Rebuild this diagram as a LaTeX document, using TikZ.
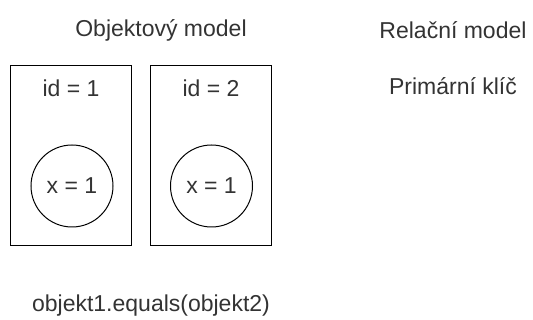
\documentclass[tikz,border=0pt]{standalone}
\usepackage{fontspec}
\setmainfont{Liberation Sans}
\usetikzlibrary{positioning}

\begin{document}
\begin{tikzpicture}[x=1pt, y=-1pt]
    \tikzstyle{label} = [text=black!80, font=\fontsize{23}{26}\selectfont, inner sep=0pt]
    \tikzstyle{objbox} = [rectangle, draw=black, line width=1pt, minimum width=121pt, minimum height=180pt, inner sep=0pt]
    \tikzstyle{attr} = [circle, draw=black, line width=1pt, minimum size=82pt, inner sep=0pt, text=black!80, font=\fontsize{23}{26}\selectfont]

    \useasboundingbox (0,0) rectangle (533,320);

    % Nodes
    \node (o_title) [label] at (161,30) {Objektový model};
    \node (r_title) [label] at (453,30) {Relační model};
    \node (r_key) [label] at (453,86) {Primární klíč};

    \node (o_box1) [objbox] at (71,156) {};
    \node (o_box2) [objbox] at (211,156) {};
    \node (o_id1) [label] at (71,88) {id = 1};
    \node (o_id2) [label] at (211,88) {id = 2};
    \node (o_x1) [attr] at (72,186) {x = 1};
    \node (o_x2) [attr] at (211.5,186) {x = 1};

    \node (o_equals) [label] at (151,306) {objekt1.equals(objekt2)};
\end{tikzpicture}
\end{document}
